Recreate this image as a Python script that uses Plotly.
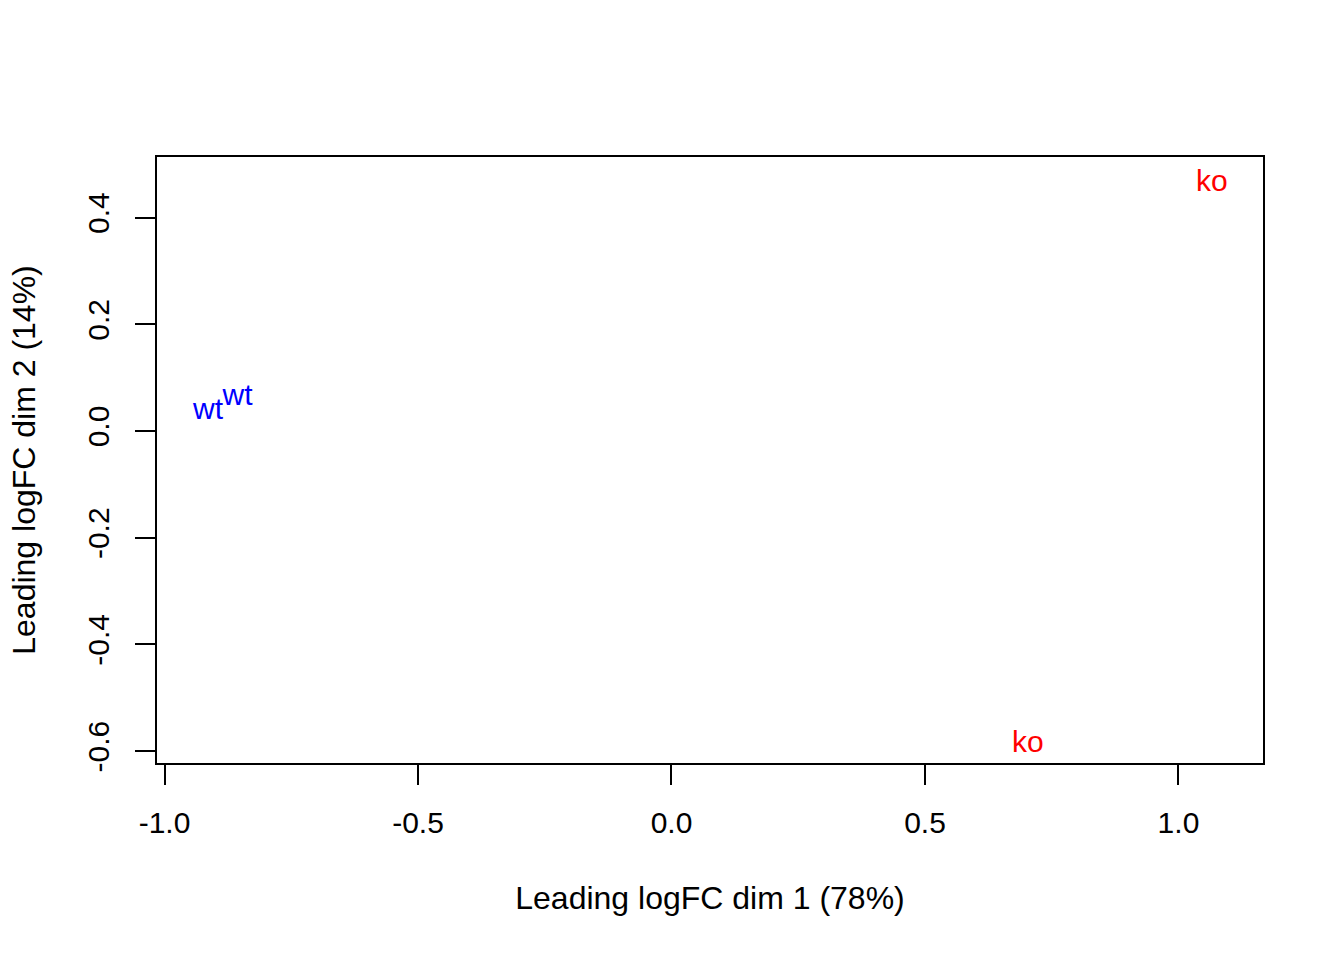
import plotly.graph_objects as go

labels = ["wt", "wt", "ko", "ko"]
dim1 = [-0.914, -0.856, 1.066, 0.703]
dim2 = [0.0375, 0.0637, 0.464, -0.588]
colors = ["#0000FF", "#0000FF", "#FF0000", "#FF0000"]

x_ticks = [-1.0, -0.5, 0.0, 0.5, 1.0]
x_ticklabels = ["-1.0", "-0.5", "0.0", "0.5", "1.0"]
y_ticks = [-0.6, -0.4, -0.2, 0.0, 0.2, 0.4]
y_ticklabels = ["-0.6", "-0.4", "-0.2", "0.0", "0.2", "0.4"]

FONT = "Liberation Sans, Arial, Helvetica, sans-serif"
FS = 30
FS_TITLE = 32

fig = go.Figure()
fig.add_trace(go.Scatter(
    x=dim1, y=dim2, mode="text", text=labels,
    textposition="middle center",
    textfont=dict(family=FONT, size=FS, color=colors),
    showlegend=False, hoverinfo="skip",
))

fig.update_layout(
    width=1344, height=960,
    margin=dict(l=157, r=81, t=157, b=197),
    paper_bgcolor="white", plot_bgcolor="white",
    font=dict(family=FONT, size=FS, color="black"),
    xaxis=dict(
        range=[-1.0148, 1.1667], showgrid=False, zeroline=False,
        showline=True, linecolor="black", linewidth=2, mirror=True,
        ticks="outside", ticklen=20, tickwidth=2, tickcolor="black",
        tickvals=x_ticks, ticktext=x_ticklabels,
        tickfont=dict(family=FONT, size=FS, color="black"),
        ticklabelstandoff=12,
        title=dict(text="Leading logFC dim 1 (78%)", standoff=49,
                   font=dict(family=FONT, size=FS_TITLE, color="black")),
    ),
    yaxis=dict(
        range=[-0.6223, 0.5136], showgrid=False, zeroline=False,
        showline=True, linecolor="black", linewidth=2, mirror=True,
        ticks="outside", ticklen=20, tickwidth=2, tickcolor="black",
        tickvals=y_ticks, ticktext=y_ticklabels, tickangle=-90,
        tickfont=dict(family=FONT, size=FS, color="black"),
        ticklabelstandoff=14,
        title=dict(text="Leading logFC dim 2 (14%)", standoff=37,
                   font=dict(family=FONT, size=FS_TITLE, color="black")),
    ),
)

fig.write_html("out.html", config={"displayModeBar": False},
               post_script="document.body.style.margin='0';")
